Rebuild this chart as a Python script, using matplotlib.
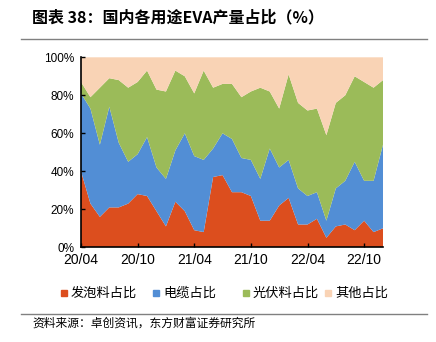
import numpy as np
import pandas as pd
import matplotlib
matplotlib.use("Agg")
import matplotlib.pyplot as plt
from matplotlib.patches import Rectangle
from matplotlib.lines import Line2D

plt.rcParams['font.family'] = ['Noto Sans CJK SC', 'DejaVu Sans']

# --- data: monthly shares (%), 2020/04 - 2022/12 ---
months = list(pd.period_range("2020-04", "2022-12", freq="M").strftime("%y/%m"))
foam = [40, 23, 16, 21, 21, 23, 28, 27, 19, 11, 24, 19, 9, 8, 37, 38, 29,
        29, 27, 14, 14, 22, 26, 12, 12, 15, 5, 11, 12, 9, 14, 8, 10]
cable = [41, 50, 38, 53, 34, 22, 21, 31, 23, 25, 27, 41, 39, 38, 15, 22, 28,
         18, 19, 22, 38, 20, 20, 19, 15, 14, 9, 20, 23, 36, 21, 27, 44]
pv = [6, 6, 30, 15, 33, 39, 38, 35, 41, 46, 42, 30, 33, 47, 32, 26, 29,
      32, 36, 48, 30, 31, 45, 45, 45, 44, 45, 45, 45, 45, 52, 49, 34]
other = [100 - a - b - c for a, b, c in zip(foam, cable, pv)]

series_names = ["发泡料占比", "电缆占比", "光伏料占比", "其他占比"]
colors = ["#DC4E1E", "#528ED5", "#9BBB59", "#F9D3B5"]
tick_idx = [0, 6, 12, 18, 24, 30]

# --- figure ---
fig = plt.figure(figsize=(4.36, 3.42), dpi=100)
ax = fig.add_axes([81 / 436, 1 - 247.3 / 342, 302 / 436, 190 / 342])

x = np.arange(len(months))
ax.stackplot(x, foam, cable, pv, other, colors=colors, linewidth=0)

ax.set_xlim(0, len(months) - 1)
ax.set_ylim(0, 100)
ax.set_yticks(range(0, 101, 20))
ax.set_yticklabels([f"{v}%" for v in range(0, 101, 20)],
                   fontsize=8.5, family="Liberation Sans")
ax.set_xticks(tick_idx)
ax.set_xticklabels([months[i] for i in tick_idx], fontsize=10,
                   family="Liberation Sans")
ax.tick_params(direction="in", length=3, width=1, pad=4, colors="black")
ax.tick_params(axis="y", pad=5)
for s in ["top", "right"]:
    ax.spines[s].set_visible(False)
for s in ["left", "bottom"]:
    ax.spines[s].set_linewidth(1.2)

# title + rules
fig.text(32 / 436, 1 - 17 / 342, "图表 38：国内各用途EVA产量占比（%）",
         fontsize=11.5, fontweight="bold", va="center", ha="left")
fig.add_artist(Line2D([21 / 436, 427 / 436], [1 - 39 / 342] * 2,
                      color="#808080", lw=1))
fig.add_artist(Line2D([21 / 436, 427 / 436], [1 - 314 / 342] * 2,
                      color="#808080", lw=1))
fig.text(32 / 436, 1 - 323 / 342, "资料来源：卓创资讯，东方财富证券研究所",
         fontsize=8.5, va="center", ha="left")

# legend
leg_x = [61, 153, 243, 325]
for lx, name, c in zip(leg_x, series_names, colors):
    fig.add_artist(Rectangle((lx / 436, 1 - 296 / 342), 6 / 436, 6 / 342,
                             color=c, transform=fig.transFigure))
    fig.text((lx + 10) / 436, 1 - 293 / 342, name, fontsize=9.5,
             va="center", ha="left")

fig.savefig("out.png", dpi=100)
